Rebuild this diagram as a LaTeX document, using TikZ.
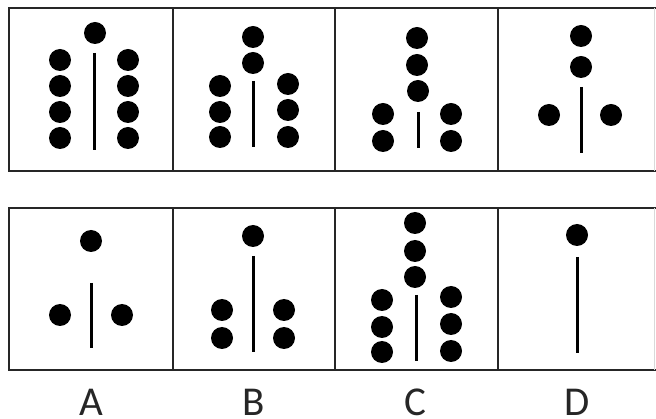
\documentclass[tikz,border=0pt]{standalone}
\usepackage{fontspec}
\setmainfont{Carlito}
\begin{document}
\begin{tikzpicture}[x=1pt,y=-1pt,
  frame/.style={line width=2.6pt,black!85},
  stick/.style={line width=3pt,black},
  lab/.style={font=\fontsize{41}{46}\selectfont,anchor=base,inner sep=0pt,text=black!85}]
\useasboundingbox (0,0) rectangle (656,419);
\newcommand\dt[2]{\fill (#1,#2) circle (11pt);}
% frames
\draw[frame] (656,8) -- (9,8) -- (9,171) -- (656,171);
\draw[frame] (656,208) -- (9,208) -- (9,370) -- (656,370);
\foreach \x in {173,335,498} {
  \draw[frame] (\x,8) -- (\x,171);
  \draw[frame] (\x,208) -- (\x,370);
}
\draw[black!15,line width=0.8pt] (654,8) -- (654,171);
\draw[black!15,line width=0.8pt] (654,208) -- (654,370);
% top row cell 1
\dt{95}{33}
\draw[stick] (94,53) -- (94,150);
\foreach \y in {60,86,112,138} { \dt{60}{\y} \dt{128}{\y} }
% cell 2
\dt{253}{37} \dt{253}{63}
\draw[stick] (253,81) -- (253,147);
\foreach \y in {86,112,137} { \dt{220}{\y} }
\foreach \y in {84,110,137} { \dt{288}{\y} }
% cell 3
\dt{417}{38} \dt{417}{65} \dt{418}{91}
\draw[stick] (418,112) -- (418,148);
\foreach \y in {114,141} { \dt{383}{\y} \dt{451}{\y} }
% cell 4
\dt{581}{36} \dt{581}{67}
\draw[stick] (581,87) -- (581,153);
\dt{549}{115} \dt{611}{115}
% bottom row A
\dt{91}{241}
\draw[stick] (91,283) -- (91,348);
\dt{60}{315} \dt{122}{315}
% B
\dt{253}{236}
\draw[stick] (253,256) -- (253,352);
\foreach \y in {310,338} { \dt{222}{\y} \dt{284}{\y} }
% C
\dt{415}{223} \dt{415}{251} \dt{415}{277}
\draw[stick] (416,295) -- (416,361);
\foreach \y in {300,327,352} { \dt{382}{\y} }
\foreach \y in {297,324,351} { \dt{451}{\y} }
% D
\dt{577}{235}
\draw[stick] (577,257) -- (577,353);
% labels
\node[lab] (la) at (91,416) {A};
\node[lab] (lb) at (254,416) {B};
\node[lab] (lc) at (415,416) {C};
\node[lab] (ld) at (577,416) {D};
\end{tikzpicture}
\end{document}
